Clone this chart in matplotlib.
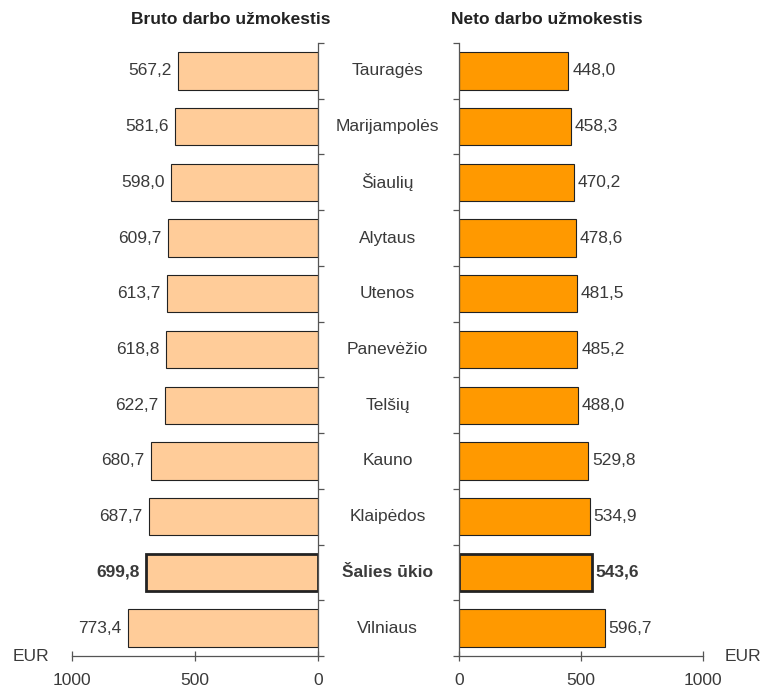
import matplotlib.pyplot as plt
import numpy as np

regions = ["Tauragės", "Marijampolės", "Šiaulių", "Alytaus", "Utenos", "Panevėžio",
           "Telšių", "Kauno", "Klaipėdos", "Šalies ūkio", "Vilniaus"]
gross = [567.2, 581.6, 598.0, 609.7, 613.7, 618.8, 622.7, 680.7, 687.7, 699.8, 773.4]
net = [448.0, 458.3, 470.2, 478.6, 481.5, 485.2, 488.0, 529.8, 534.9, 543.6, 596.7]
highlight = "Šalies ūkio"

text_color = "#3a3a3a"
fs = 12.5
plt.rcParams["font.family"] = ["Liberation Sans", "DejaVu Sans"]

fig = plt.figure(figsize=(7.63, 6.93), dpi=100)
ax_l = fig.add_axes([0.0944, 0.0534, 0.3224, 0.8846])
ax_r = fig.add_axes([0.6016, 0.0534, 0.3198, 0.8846])

y = np.arange(len(regions))
is_hl = [r == highlight for r in regions]
lw = [2.0 if h else 0.8 for h in is_hl]

ax_l.barh(y, gross, height=0.67, color="#FFCC99", edgecolor="#222222", linewidth=lw)
ax_r.barh(y, net, height=0.67, color="#FF9900", edgecolor="#222222", linewidth=lw)

for ax in (ax_l, ax_r):
    ax.set_xlim(0, 1000)
    ax.set_ylim(len(regions) - 0.5, -0.5)
    ax.set_xticks([0, 500, 1000])
    ax.set_yticks([])
    ax.set_yticks(np.arange(len(regions) + 1) - 0.5, minor=True)
    ax.spines["top"].set_visible(False)
    for s in ("left", "right", "bottom"):
        ax.spines[s].set_color("#555555")
        ax.spines[s].set_linewidth(0.9)
    ax.tick_params(axis="x", direction="inout", length=7, width=0.9,
                   colors="#555555", labelcolor=text_color, labelsize=fs, pad=9)
    ax.tick_params(axis="y", which="minor", direction="out", length=4,
                   width=0.9, colors="#555555")

# left panel grows leftwards from zero
ax_l.invert_xaxis()
ax_l.spines["left"].set_visible(False)
ax_l.yaxis.set_ticks_position("right")
ax_r.spines["right"].set_visible(False)
ax_r.yaxis.set_ticks_position("left")

for i, (g, n, h) in enumerate(zip(gross, net, is_hl)):
    weight = "bold" if h else "normal"
    ax_l.text(g + 26, i, f"{g:.1f}".replace(".", ","), ha="right", va="center",
              fontsize=fs, color=text_color, fontweight=weight)
    ax_r.text(n + 16, i, f"{n:.1f}".replace(".", ","), ha="left", va="center",
              fontsize=fs, color=text_color, fontweight=weight)
    fig.text(0.508, ax_l.transData.transform((0, i))[1] / fig.bbox.height,
             regions[i], ha="center", va="center", fontsize=fs,
             color=text_color, fontweight=weight)

fig.text(0.302, 0.972, "Bruto darbo užmokestis", ha="center", va="center",
         fontsize=12.5, fontweight="bold", color="#222222")
fig.text(0.717, 0.972, "Neto darbo užmokestis", ha="center", va="center",
         fontsize=12.5, fontweight="bold", color="#222222")
fig.text(0.017, 0.053, "EUR", ha="left", va="center", fontsize=fs, color=text_color)
fig.text(0.950, 0.053, "EUR", ha="left", va="center", fontsize=fs, color=text_color)

fig.savefig("out.png", dpi=100, facecolor="white")
